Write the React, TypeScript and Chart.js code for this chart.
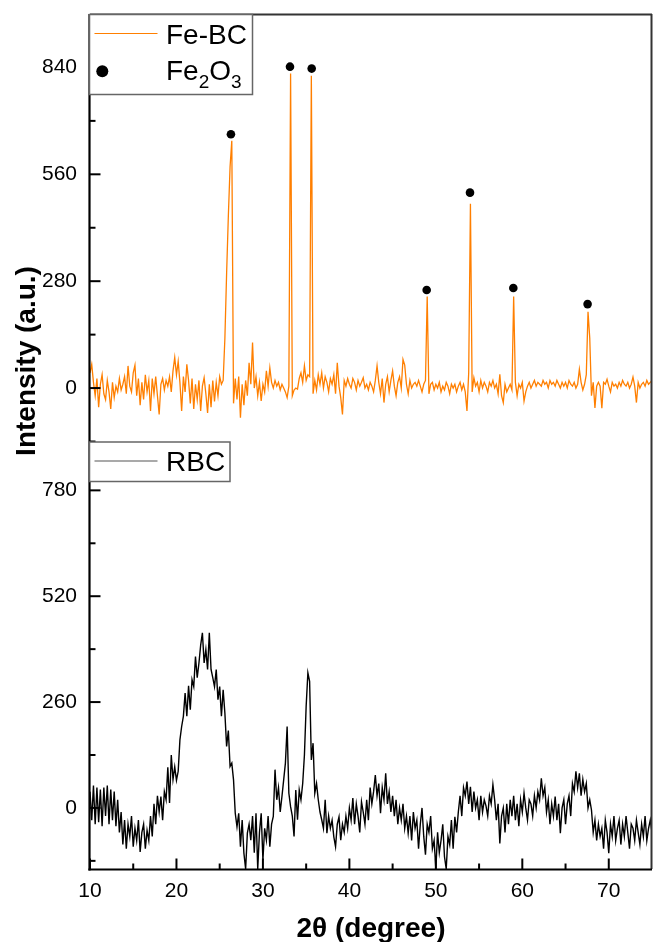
import React, { useEffect, useRef } from 'react';
import { Chart, registerables } from 'chart.js';

Chart.register(...registerables);

// 2θ scan grid (degrees): start and step of the diffractometer sampling
const SCAN_START = 10;
const SCAN_STEP = 0.2;

// Fe-BC intensity (a.u.), one row per degree: d.0, d.2, d.4, d.6, d.8
const FE_BC = [
  40, 62, 15, -20, 25,
  -50, 10, 35, -15, -30,
  20, -10, -55, 15, -25,
  5, -10, 25, -5, 10,
  30, -15, 58, 5, -10,
  40, 60, -20, 25, -45,
  15, -30, 35, -10, 20,
  -60, 25, -15, 30, -20,
  -69, 10, 25, -5, 20,
  5, 30, -10, 45, 80,
  35, 70, 15, -60, 30,
  -10, 62, 20, -40, 25,
  -55, 10, -30, 20, -60,
  5, 27, -15, -65, 10,
  -50, 20, -35, 15, -20,
  30, 10, 20, 130, 300,
  450, 580, 648, -40, 25,
  -30, 30, -78, 10, -45,
  20, -20, 66, 10, 119,
  0, 30, -20, 15, -34,
  10, -10, 45, 5, 53,
  15, 0, 20, 5, 15,
  -5, 10, 0, -10, -25,
  5, 824, -20, -5, 0,
  -3, 25, 40, 15, 58,
  20, 35, 30, 818, -15,
  20, -5, 35, 10, 40,
  0, 30, 15, -10, 25,
  10, 35, -15, 66, 5,
  -25, -69, 20, 5, 25,
  10, 0, 25, 15, -5,
  20, 5, 15, 27, 0,
  10, -5, 15, 5, -10,
  20, 58, 15, -15, 25,
  -38, 10, 30, -10, 20,
  45, 5, -20, 15, 30,
  0, 75, 60, 10, -15,
  20, 0, 10, 15, 5,
  20, 5, -10, 10, 20,
  240, -15, 10, 15, -5,
  10, 0, 15, -10, 5,
  -5, 15, 5, -15, 10,
  0, 10, -10, 5, 15,
  -5, 10, -10, -60, 40,
  483, -10, 27, 5, 15,
  -10, 20, 0, 15, 5,
  -10, 15, 5, 20, 0,
  10, -15, 36, -20, -38,
  10, -10, 0, 10, -5,
  240, 15, -20, 10, 0,
  15, -34, -10, 5, 15,
  0, 10, 20, 5, 15,
  10, 5, 20, 10, 15,
  0, 20, 10, 15, 5,
  20, 10, 0, 15, 5,
  15, 0, 20, 10, 5,
  15, 0, 10, 49, 15,
  -5, 10, 35, 200, 131,
  -20, 15, -52, 5, 15,
  5, -53, 15, 10, 23,
  5, -10, 15, 5, 10,
  0, 15, 5, 20, 10,
  5, 15, 0, 10, 29,
  5, -38, 15, 0, 10,
  15, 5, 20, 10, 15,
  20,
];

// RBC intensity (a.u.), same grid
const RBC = [
  40, -30, 55, -40, 50,
  -35, 45, -45, 50, -20,
  55, -40, 45, -30, 40,
  -45, 20, -60, -10, -90,
  -30, -100, -40, -70, -20,
  -95, -50, -80, -30, -108,
  -60, -40, -100, -55, -80,
  -20, -70, 10, -40, 30,
  -10, 28, -30, 40, 20,
  100, 12, 130, 70, 101,
  68, 90, 167, 200, 225,
  282, 225, 300, 241, 315,
  298, 372, 320, 356, 400,
  430, 356, 389, 340, 430,
  340, 320, 298, 340, 266,
  298, 225, 290, 233, 151,
  190, 102, 110, 69, -13,
  -46, -13, -95, -30, -111,
  -150, -62, -40, -79, -20,
  -110, -13, -150, -60, -13,
  -128, -50, -79, -20, -95,
  -40, -21, 94, 20, 50,
  -10, 28, 69, 110, 200,
  36, 3, -20, -70, 44,
  -29, 44, 20, 60, 130,
  250, 332, 311, 118, 159,
  36, 60, 20, -10, -29,
  -50, 20, -62, -20, -50,
  -30, -71, -95, -40, -22,
  -79, -40, -60, -20, -50,
  0, -30, 24, -40, 10,
  -20, -60, 15, -10, -40,
  20, -30, 50, 10, 40,
  81, 30, 60, -13, 50,
  20, 85, 10, 40, -10,
  30, -20, 20, -40, 0,
  -30, 10, -50, -20, -62,
  -20, -80, -10, -50, -30,
  -100, -40, 0, -70, -115,
  -40, -60, -20, -100, -80,
  -150, -60, -110, -80, -40,
  -120, -150, -70, -90, -30,
  -100, -22, -60, -10, 30,
  -20, 50, 30, 65, 10,
  52, -10, 40, 0, 20,
  -30, 30, -10, 20, 5,
  -20, 30, 10, 57, 20,
  -30, 10, -87, -20, 0,
  -60, 10, -40, 20, -20,
  30, -30, 10, -45, 20,
  -10, 36, 0, -30, 20,
  10, -20, 30, 0, 40,
  20, 73, 30, 50, -10,
  20, -40, 10, -20, 28,
  -30, 10, -62, 0, 20,
  -40, 10, 30, -20, 60,
  40, 90, 50, 85, 30,
  70, 40, 60, 0, 20,
  -5, -60, -30, -80, -40,
  -70, -50, -100, -30, -60,
  -111, -40, -70, -20, -80,
  -50, -30, -90, -40, -70,
  -20, -60, -100, -40, -50,
  -80, -30, -60, -90, -40,
  -70, -20, -80, -50, -30,
  -60,
];

// Fe2O3 reflection markers
const FE2O3_2THETA = [26.3, 33.13, 35.64, 48.94, 53.95, 58.96, 67.55];
const FE2O3_MARK = [665, 842, 837, 257, 512, 262, 220];

// axis ticks
const X_TICKS = [10, 20, 30, 40, 50, 60, 70];
const X_MINOR = [15, 25, 35, 45, 55, 65];
const TOP_TICKS = [0, 280, 560, 840];
const TOP_MINOR = [-140, 140, 420, 700];
const BOT_TICKS = [0, 260, 520, 780];
const BOT_MINOR = [-130, 130, 390, 650];

const FONT = "'Liberation Sans', Arial, Helvetica, sans-serif";
const ORANGE = '#ff7f00';

function seg(ctx: CanvasRenderingContext2D, x1: number, y1: number, x2: number, y2: number) {
  ctx.beginPath();
  ctx.moveTo(x1, y1);
  ctx.lineTo(x2, y2);
  ctx.stroke();
}

const overlay = {
  id: 'overlay',
  afterDraw(chart: any) {
    const ctx: CanvasRenderingContext2D = chart.ctx;
    const a = chart.chartArea;
    const xs = chart.scales.x;
    const yT = chart.scales.yTop;
    const yB = chart.scales.yBot;
    ctx.save();

    // top and right frame
    ctx.strokeStyle = '#333';
    ctx.lineWidth = 2;
    seg(ctx, a.left, a.top + 0.5, a.right, a.top + 0.5);
    seg(ctx, a.right - 0.5, a.top, a.right - 0.5, a.bottom);

    // left and bottom axes
    ctx.strokeStyle = '#000';
    ctx.lineWidth = 2.2;
    const ax = a.left - 0.5;
    const ay = a.bottom + 0.5;
    seg(ctx, ax, a.top, ax, ay + 1.1);
    seg(ctx, ax - 1.1, ay, a.right, ay);

    // inward ticks
    ctx.lineWidth = 2;
    for (const v of TOP_TICKS) { const p = yT.getPixelForValue(v); seg(ctx, ax, p, ax + 11, p); }
    for (const v of BOT_TICKS) { const p = yB.getPixelForValue(v); seg(ctx, ax, p, ax + 11, p); }
    for (const v of TOP_MINOR) { const p = yT.getPixelForValue(v); seg(ctx, ax, p, ax + 6, p); }
    for (const v of BOT_MINOR) { const p = yB.getPixelForValue(v); seg(ctx, ax, p, ax + 6, p); }
    for (const v of X_TICKS) { const p = xs.getPixelForValue(v); seg(ctx, p, ay, p, ay - 11); }
    for (const v of X_MINOR) { const p = xs.getPixelForValue(v); seg(ctx, p, ay, p, ay - 6); }

    // legend: Fe-BC / Fe2O3
    ctx.fillStyle = '#fff';
    ctx.fillRect(89.5, 14.5, 163, 80);
    ctx.strokeStyle = '#666';
    ctx.lineWidth = 1.5;
    ctx.strokeRect(89.5, 14.5, 163, 80);

    ctx.strokeStyle = ORANGE;
    ctx.lineWidth = 1.2;
    seg(ctx, 94.5, 33.5, 157.5, 33.5);
    ctx.fillStyle = '#000';
    ctx.textAlign = 'left';
    ctx.textBaseline = 'alphabetic';
    ctx.font = `28px ${FONT}`;
    ctx.fillText('Fe-BC', 166, 44);

    ctx.beginPath();
    ctx.arc(102.3, 71.3, 6, 0, Math.PI * 2);
    ctx.fill();
    let tx = 166;
    ctx.font = `28px ${FONT}`;
    ctx.fillText('Fe', tx, 79.5);
    tx += ctx.measureText('Fe').width;
    ctx.font = `19px ${FONT}`;
    ctx.fillText('2', tx, 87.5);
    tx += ctx.measureText('2').width;
    ctx.font = `28px ${FONT}`;
    ctx.fillText('O', tx, 79.5);
    tx += ctx.measureText('O').width;
    ctx.font = `19px ${FONT}`;
    ctx.fillText('3', tx, 87.5);

    // legend: RBC
    ctx.fillStyle = '#fff';
    ctx.fillRect(89.5, 442, 140.5, 39.5);
    ctx.strokeStyle = '#666';
    ctx.lineWidth = 1.5;
    ctx.strokeRect(89.5, 442, 140.5, 39.5);
    ctx.strokeStyle = '#555';
    ctx.lineWidth = 1.2;
    seg(ctx, 94.5, 461, 157.5, 461);
    ctx.fillStyle = '#000';
    ctx.font = `28px ${FONT}`;
    ctx.fillText('RBC', 166, 471);

    // axis titles
    ctx.font = `bold 28px ${FONT}`;
    ctx.textAlign = 'center';
    ctx.fillText('2θ (degree)', (a.left + a.right) / 2, 937);
    ctx.save();
    ctx.translate(35, 361);
    ctx.rotate(-Math.PI / 2);
    ctx.fillText('Intensity (a.u.)', 0, 0);
    ctx.restore();

    ctx.restore();
  },
};

export default function App() {
  const ref = useRef<HTMLCanvasElement>(null);

  useEffect(() => {
    if (!ref.current) return;
    Chart.defaults.font.family = FONT;
    const grid = (v: number) => SCAN_START + v * SCAN_STEP;
    const feData = FE_BC.map((y, i) => ({ x: grid(i), y }));
    const rbcData = RBC.map((y, i) => ({ x: grid(i), y }));
    const markData = FE2O3_2THETA.map((x, i) => ({ x, y: FE2O3_MARK[i] }));

    const yCommon = {
      type: 'linear' as const,
      position: 'left' as const,
      stack: 'panels',
      stackWeight: 1,
      grid: { display: false, drawTicks: false },
      border: { display: false },
      ticks: { color: '#000', font: { size: 21 }, padding: 13, autoSkip: false, includeBounds: false },
      afterFit: (s: any) => {
        s.width = 90;
        s.paddingTop = 0; s.paddingBottom = 0; s.paddingLeft = 0; s.paddingRight = 0;
      },
    };

    const chart = new Chart(ref.current, {
      type: 'line',
      data: {
        datasets: [
          {
            label: 'Fe-BC', data: feData, yAxisID: 'yTop', xAxisID: 'x',
            borderColor: ORANGE, borderWidth: 1.3, pointRadius: 0, tension: 0, fill: false,
          },
          {
            label: 'Fe2O3', data: markData, yAxisID: 'yTop', xAxisID: 'x', showLine: false,
            pointRadius: 4.3, pointBackgroundColor: '#000', pointBorderColor: '#000', borderColor: '#000',
            pointBorderWidth: 0,
          },
          {
            label: 'RBC', data: rbcData, yAxisID: 'yBot', xAxisID: 'x',
            borderColor: '#000', borderWidth: 1.4, pointRadius: 0, tension: 0, fill: false,
          },
        ],
      },
      options: {
        responsive: false,
        animation: false,
        devicePixelRatio: 1,
        layout: { autoPadding: false, padding: { top: 14, right: 1, left: 0, bottom: 0 } },
        plugins: { legend: { display: false }, tooltip: { enabled: false } },
        scales: {
          x: {
            type: 'linear', position: 'bottom', min: 10, max: 75,
            grid: { display: false, drawTicks: false },
            border: { display: false },
            ticks: { color: '#000', font: { size: 21 }, padding: 10, autoSkip: false, maxRotation: 0, includeBounds: false },
            afterBuildTicks: (s: any) => { s.ticks = X_TICKS.map((v) => ({ value: v })); },
            afterFit: (s: any) => {
              s.height = 73;
              s.paddingTop = 0; s.paddingBottom = 0; s.paddingLeft = 0; s.paddingRight = 0;
            },
          },
          yBot: {
            ...yCommon, min: -150, max: 900,
            afterBuildTicks: (s: any) => { s.ticks = BOT_TICKS.map((v) => ({ value: v })); },
          },
          yTop: {
            ...yCommon, min: -140, max: 980,
            afterBuildTicks: (s: any) => { s.ticks = TOP_TICKS.map((v) => ({ value: v })); },
          },
        } as any,
      },
      plugins: [overlay],
    });
    return () => chart.destroy();
  }, []);

  return (
    <div style={{ position: 'absolute', left: 0, top: 0, width: 653, height: 942, background: '#fff' }}>
      <canvas ref={ref} width={653} height={942} style={{ display: 'block', width: 653, height: 942 }} />
    </div>
  );
}
